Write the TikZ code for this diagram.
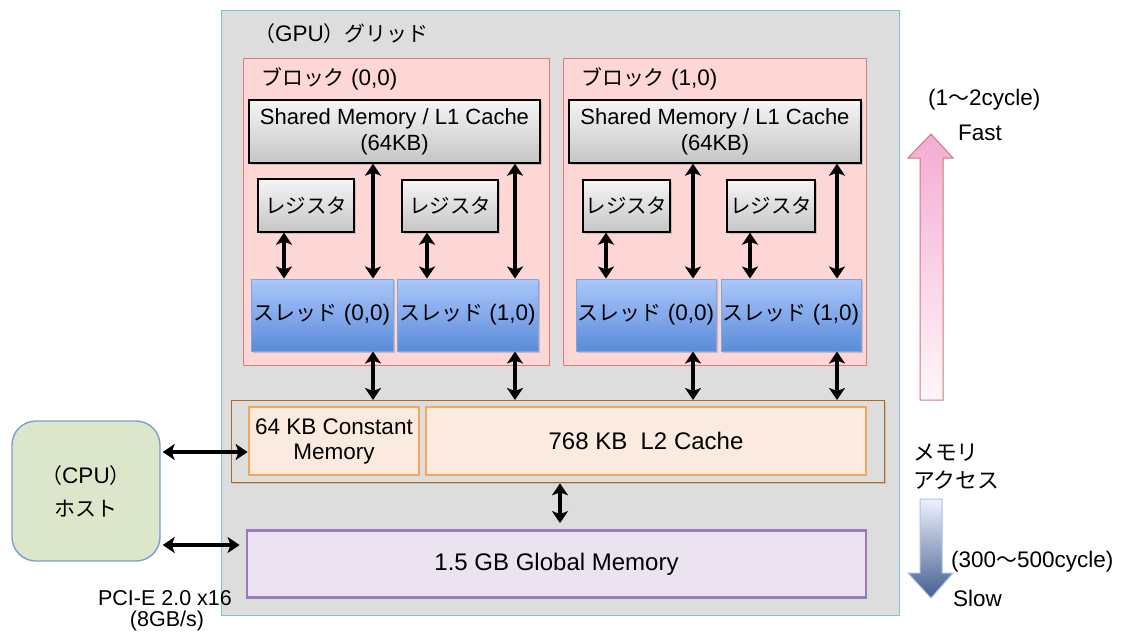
\documentclass[tikz,border=0pt]{standalone}
\usepackage{fontspec}
\setmainfont{Liberation Sans}
\newfontfamily\jp{Noto Sans CJK JP}[Scale=0.93]
\usetikzlibrary{arrows.meta,shadows}

\definecolor{gridfill}{HTML}{DDDDDD}
\definecolor{gridline}{HTML}{7CC2D2}
\definecolor{blockfill}{HTML}{FDD6D6}
\definecolor{blockline}{HTML}{E07A7A}
\definecolor{threadtop}{HTML}{ABC7FA}
\definecolor{threadbot}{HTML}{5A8BDA}
\definecolor{threadline}{HTML}{80A6DE}
\definecolor{cachefill}{HTML}{FBEAE0}
\definecolor{cacheline}{HTML}{F4A65A}
\definecolor{busline}{HTML}{B3661C}
\definecolor{globfill}{HTML}{EBE4F0}
\definecolor{globline}{HTML}{9B7BBD}
\definecolor{hostfill}{HTML}{DBE6CA}
\definecolor{hostline}{HTML}{7B9FD0}
\definecolor{fasttop}{HTML}{F4ACD2}
\definecolor{fastbot}{HTML}{FFF6FA}
\definecolor{slowtop}{HTML}{EEF2FF}
\definecolor{slowbot}{HTML}{445E8E}

\tikzset{
  txt/.style={font=\fontsize{22.5}{25}\selectfont, inner sep=0pt, align=center},
  area/.style={draw, inner sep=0pt, anchor=north west},
  memgray/.style={draw=black, line width=1.4pt, top color=gray!8, bottom color=gray!45,
    drop shadow={shadow xshift=1.5pt, shadow yshift=-1.5pt, opacity=.35},
    inner sep=0pt, align=center, font=\fontsize{22}{26}\selectfont},
  thread/.style={draw=threadline, line width=1pt, top color=threadtop, bottom color=threadbot,
    drop shadow={shadow xshift=1.5pt, shadow yshift=-1.5pt, opacity=.35},
    inner sep=0pt, align=center, font=\fontsize{22.5}{25}\selectfont},
  cache/.style={draw=cacheline, fill=cachefill, line width=2.8pt, inner sep=0pt,
    align=center, font=\fontsize{22.5}{25}\selectfont},
  link/.style={line width=3.4pt, {Stealth[length=12pt,width=16pt,inset=3pt]}-{Stealth[length=12pt,width=16pt,inset=3pt]}},
}

\begin{document}
\begin{tikzpicture}[x=1pt,y=-1pt]
\useasboundingbox (0,0) rectangle (1122,633);

% GPU grid
\node[area, fill=gridfill, draw=gridline, line width=1.3pt,
      minimum width=678pt, minimum height=605pt] (grid) at (221,10) {};
\node[txt, anchor=west] (gridlbl) at (254,34) {{\jp （}GPU{\jp ）グリッド}};

% blocks
\node[area, fill=blockfill, draw=blockline, line width=1.2pt,
      minimum width=306pt, minimum height=307pt] (blk0) at (243,58) {};
\node[area, fill=blockfill, draw=blockline, line width=1.2pt,
      minimum width=303pt, minimum height=307pt] (blk1) at (563,58) {};
\node[txt, anchor=west] (blk0lbl) at (261,79) {{\jp ブロック} (0,0)};
\node[txt, anchor=west] (blk1lbl) at (581,79) {{\jp ブロック} (1,0)};

% shared memory
\node[memgray, minimum width=291pt, minimum height=63pt] (sm0) at (394.5,131.5)
  {Shared Memory / L1 Cache\\(64KB)};
\node[memgray, minimum width=292pt, minimum height=63pt] (sm1) at (715,131.5)
  {Shared Memory / L1 Cache\\(64KB)};

% registers
\node[memgray, minimum width=96pt, minimum height=53pt] (r00) at (306,205.5) {\jp レジスタ};
\node[memgray, minimum width=96pt, minimum height=52pt] (r01) at (450,206) {\jp レジスタ};
\node[memgray, minimum width=87pt, minimum height=52pt] (r10) at (626.5,206) {\jp レジスタ};
\node[memgray, minimum width=88pt, minimum height=52pt] (r11) at (771,206) {\jp レジスタ};

% threads
\node[thread, minimum width=142pt, minimum height=72pt] (t00) at (322,315) {{\jp スレッド} (0,0)};
\node[thread, minimum width=141pt, minimum height=72pt] (t01) at (467.5,315) {{\jp スレッド} (1,0)};
\node[thread, minimum width=140pt, minimum height=72pt] (t10) at (646,315) {{\jp スレッド} (0,0)};
\node[thread, minimum width=140pt, minimum height=72pt] (t11) at (791,315) {{\jp スレッド} (1,0)};

% cache bus
\node[area, draw=busline, line width=1.3pt, minimum width=653pt, minimum height=82pt,
      drop shadow={shadow xshift=1.5pt, shadow yshift=-1.5pt, opacity=.3}, fill=gridfill] (bus) at (231,400) {};
\node[cache, minimum width=170pt, minimum height=68pt] (const) at (334,441)
  {64 KB Constant\\Memory};
\node[cache, minimum width=440pt, minimum height=68pt, font=\fontsize{24}{26}\selectfont] (l2) at (646,441)
  {768 KB\ \ L2 Cache};

% global memory
\node[draw=globline, fill=globfill, line width=2.8pt, inner sep=0pt,
      minimum width=619pt, minimum height=67pt, font=\fontsize{24}{26}\selectfont]
      (glob) at (556.5,564) {1.5 GB Global Memory};

% host
\node[draw=hostline, fill=hostfill, line width=1.4pt, rounded corners=24pt,
      minimum width=148pt, minimum height=140pt, inner sep=0pt, align=center,
      font=\fontsize{22.5}{33}\selectfont] (host) at (86,491) {{\jp （}CPU{\jp ）}\\\jp ホスト};

\node[txt, font=\fontsize{21.5}{25}\selectfont] (pci) at (165,598) {PCI-E 2.0 x16};
\node[txt, font=\fontsize{21.5}{25}\selectfont] (pcibw) at (167,621) {(8GB/s)};

% connector x positions
\coordinate (xa) at (284,0);
\coordinate (xb) at (427,0);
\coordinate (xc) at (606,0);
\coordinate (xd) at (750,0);
\coordinate (xe) at (373,0);
\coordinate (xf) at (515,0);
\coordinate (xg) at (693,0);
\coordinate (xh) at (837,0);
\coordinate (xi) at (560,0);
\coordinate (ya) at (0,452);
\coordinate (yb) at (0,545);

% register <-> thread
\draw[link] (r00.south -| xa) -- (t00.north -| xa);
\draw[link] (r01.south -| xb) -- (t01.north -| xb);
\draw[link] (r10.south -| xc) -- (t10.north -| xc);
\draw[link] (r11.south -| xd) -- (t11.north -| xd);
% shared memory <-> thread
\draw[link] (sm0.south -| xe) -- (t00.north -| xe);
\draw[link] (sm0.south -| xf) -- (t01.north -| xf);
\draw[link] (sm1.south -| xg) -- (t10.north -| xg);
\draw[link] (sm1.south -| xh) -- (t11.north -| xh);
% thread <-> cache
\draw[link] (t00.south -| xe) -- (bus.north -| xe);
\draw[link] (t01.south -| xf) -- (bus.north -| xf);
\draw[link] (t10.south -| xg) -- (bus.north -| xg);
\draw[link] (t11.south -| xh) -- (bus.north -| xh);
% cache <-> global
\draw[link, shorten >=6pt] (bus.south -| xi) -- (glob.north -| xi);
% host links
\draw[link, shorten <=2pt] (host.east |- ya) -- (const.west |- ya);
\draw[link, shorten <=2pt, shorten >=6pt] (host.east |- yb) -- (glob.west |- yb);

% access speed scale
\path[draw=blockline!80!gray, line width=1pt, top color=fasttop, bottom color=fastbot]
  (920,400) -- (920,158) -- (908,158) -- (931,134) -- (953,158) -- (943,158) -- (943,400) -- cycle;
\path[draw=threadline!70, line width=1pt, top color=slowtop, bottom color=slowbot]
  (920,499) -- (920,573) -- (908,573) -- (931,598) -- (953,573) -- (942,573) -- (942,499) -- cycle;

\node[txt, anchor=west] (fastcyc) at (928,100) {(1{\jp 〜}2cycle)};
\node[txt, anchor=west] (fast) at (958,133) {Fast};
\node[txt, anchor=west, align=left, font=\jp\fontsize{23.5}{28}\selectfont] (acc) at (913,467) {メモリ\\アクセス};
\node[txt, anchor=west] (slowcyc) at (951,562) {(300{\jp 〜}500cycle)};
\node[txt, anchor=west] (slow) at (953,598) {Slow};
\end{tikzpicture}
\end{document}
